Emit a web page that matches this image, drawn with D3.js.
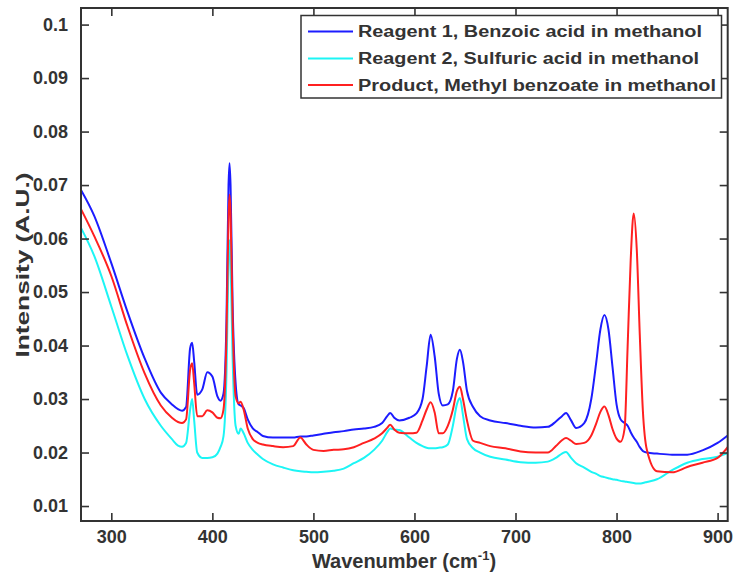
<!DOCTYPE html>
<html>
<head>
<meta charset="utf-8">
<script src="https://cdn.jsdelivr.net/npm/d3@7"></script>
<style>
  body { margin: 0; background: #fff; }
  text { font-family: Arial, "Liberation Sans", sans-serif; font-weight: bold; fill: #333; }
</style>
</head>
<body>
<div id="chart"></div>
<script>
// wavenumber grid (cm-1) shared by the three spectra
const wavenumbers = [270, 283, 300, 316, 333, 349, 360, 366, 370, 374, 378, 380, 382, 385, 390, 395, 400, 405, 408, 411,
  414, 416, 417, 418, 420, 423, 426, 428, 431, 435, 440, 445, 450, 460, 470, 480, 487, 493, 500, 510,
  520, 530, 540, 550, 560, 568, 573, 576, 580, 585, 595, 602, 608, 612, 616, 620, 624, 628, 633, 638,
  642, 645, 648, 652, 658, 665, 675, 690, 705, 720, 732, 740, 746, 750, 755, 760, 768, 775, 780, 784,
  788, 792, 796, 800, 804, 808, 811, 814, 817, 820, 823, 826, 830, 840, 855, 870, 885, 900, 910]

const benzoicAcid = [0.0691, 0.0643, 0.0554, 0.0463, 0.0376, 0.0312, 0.0290, 0.0281, 0.0278, 0.0285, 0.0395, 0.0405, 0.0370, 0.0308, 0.0318, 0.0350, 0.0342, 0.0305, 0.0297, 0.0310,
  0.0450, 0.0700, 0.0741, 0.0700, 0.0480, 0.0330, 0.0290, 0.0288, 0.0283, 0.0262, 0.0245, 0.0238, 0.0231, 0.0228, 0.0228, 0.0228, 0.0230, 0.0230, 0.0232, 0.0235,
  0.0238, 0.0240, 0.0243, 0.0245, 0.0248, 0.0255, 0.0268, 0.0274, 0.0265, 0.0260, 0.0265, 0.0273, 0.0300, 0.0360, 0.0420, 0.0380, 0.0310, 0.0288, 0.0290, 0.0315,
  0.0375, 0.0392, 0.0370, 0.0315, 0.0285, 0.0268, 0.0260, 0.0255, 0.0250, 0.0247, 0.0248, 0.0258, 0.0268, 0.0274, 0.0260, 0.0246, 0.0255, 0.0300, 0.0370, 0.0430,
  0.0457, 0.0430, 0.0360, 0.0290, 0.0262, 0.0255, 0.0250, 0.0238, 0.0228, 0.0220, 0.0210, 0.0203, 0.0200, 0.0198, 0.0196, 0.0196, 0.0204, 0.0218, 0.0232]

const sulfuricAcid = [0.0620, 0.0568, 0.0473, 0.0381, 0.0300, 0.0250, 0.0225, 0.0213, 0.0211, 0.0218, 0.0280, 0.0300, 0.0260, 0.0200, 0.0190, 0.0190, 0.0191, 0.0198, 0.0210, 0.0230,
  0.0350, 0.0560, 0.0597, 0.0560, 0.0380, 0.0250, 0.0235, 0.0245, 0.0236, 0.0218, 0.0205, 0.0196, 0.0188, 0.0178, 0.0172, 0.0167, 0.0165, 0.0164, 0.0163, 0.0164,
  0.0166, 0.0170, 0.0180, 0.0190, 0.0205, 0.0222, 0.0238, 0.0245, 0.0243, 0.0242, 0.0228, 0.0218, 0.0212, 0.0209, 0.0208, 0.0208, 0.0209, 0.0210, 0.0215, 0.0250,
  0.0290, 0.0302, 0.0270, 0.0225, 0.0208, 0.0200, 0.0192, 0.0187, 0.0182, 0.0181, 0.0183, 0.0190, 0.0198, 0.0201, 0.0190, 0.0180, 0.0172, 0.0164, 0.0160, 0.0156,
  0.0154, 0.0152, 0.0150, 0.0149, 0.0147, 0.0146, 0.0145, 0.0144, 0.0143, 0.0142, 0.0142, 0.0143, 0.0145, 0.0150, 0.0167, 0.0181, 0.0188, 0.0192, 0.0199]

const methylBenzoate = [0.0655, 0.0605, 0.0530, 0.0436, 0.0348, 0.0288, 0.0265, 0.0257, 0.0255, 0.0262, 0.0355, 0.0367, 0.0330, 0.0268, 0.0268, 0.0279, 0.0275, 0.0265, 0.0264, 0.0280,
  0.0420, 0.0640, 0.0682, 0.0650, 0.0450, 0.0305, 0.0292, 0.0295, 0.0280, 0.0245, 0.0225, 0.0218, 0.0215, 0.0212, 0.0210, 0.0212, 0.0228, 0.0215, 0.0205, 0.0203,
  0.0205, 0.0206, 0.0210, 0.0218, 0.0226, 0.0236, 0.0246, 0.0252, 0.0243, 0.0237, 0.0236, 0.0237, 0.0260, 0.0280, 0.0294, 0.0275, 0.0236, 0.0236, 0.0250, 0.0280,
  0.0315, 0.0323, 0.0300, 0.0260, 0.0222, 0.0218, 0.0212, 0.0208, 0.0202, 0.0200, 0.0200, 0.0212, 0.0223, 0.0227, 0.0222, 0.0216, 0.0218, 0.0232, 0.0255, 0.0276,
  0.0286, 0.0270, 0.0244, 0.0226, 0.0220, 0.0245, 0.0400, 0.0560, 0.0647, 0.0580, 0.0420, 0.0280, 0.0205, 0.0165, 0.0163, 0.0173, 0.0181, 0.0190, 0.0210]

const seriesNames = [
  "Reagent 1, Benzoic acid in methanol",
  "Reagent 2, Sulfuric acid in methanol",
  "Product, Methyl benzoate in methanol"
]
const seriesColors = ["#1c1cff", "#1cf5f5", "#ff2020"]
const xTicks = [300, 400, 500, 600, 700, 800, 900]
const yTicks = [0.01, 0.02, 0.03, 0.04, 0.05, 0.06, 0.07, 0.08, 0.09, 0.1]

const width = 735
const height = 575
const plot = { left: 81, right: 727.7, top: 8, bottom: 521 }
const axisColor = "#333"

const svg = d3.select("#chart")
  .append("svg")
  .attr("width", width)
  .attr("height", height)

const x = d3.scaleLinear().domain([270, 910]).range([plot.left, plot.right])
const y = d3.scaleLinear().domain([0.0072, 0.1031]).range([plot.bottom, plot.top])

const series = [benzoicAcid, sulfuricAcid, methylBenzoate].map((values, i) => ({
  name: seriesNames[i],
  color: seriesColors[i],
  points: wavenumbers.map((w, j) => [w, values[j]])
}))

svg.append("clipPath")
  .attr("id", "clip")
  .append("rect")
    .attr("x", plot.left)
    .attr("y", plot.top)
    .attr("width", plot.right - plot.left)
    .attr("height", plot.bottom - plot.top)

const line = d3.line()
  .x(d => x(d[0]))
  .y(d => y(d[1]))
  .curve(d3.curveMonotoneX)

svg.append("g")
  .attr("clip-path", "url(#clip)")
  .selectAll("path.spectrum")
  .data(series)
  .enter()
    .append("path")
      .attr("class", "spectrum")
      .attr("d", d => line(d.points))
      .attr("fill", "none")
      .attr("stroke", d => d.color)
      .attr("stroke-width", 2)
      .attr("stroke-linejoin", "round")

// axes, ticks point inward like matlab
const fmtY = d => d3.format("~g")(d)

const styleAxis = g => {
  g.select(".domain").remove()
  g.selectAll(".tick line").attr("stroke", axisColor).attr("stroke-width", 1.6)
  g.selectAll(".tick text")
    .attr("fill", axisColor)
    .style("font-size", "18px")
    .style("font-family", "Arial, 'Liberation Sans', sans-serif")
    .style("font-weight", "bold")
}

svg.append("g")
  .attr("transform", `translate(0,${plot.bottom})`)
  .call(d3.axisBottom(x).tickValues(xTicks).tickSize(-8).tickPadding(9).tickFormat(d3.format("d")))
  .call(styleAxis)

svg.append("g")
  .attr("transform", `translate(0,${plot.top})`)
  .call(d3.axisTop(x).tickValues(xTicks).tickSize(-8).tickFormat(""))
  .call(styleAxis)

svg.append("g")
  .attr("transform", `translate(${plot.left},0)`)
  .call(d3.axisLeft(y).tickValues(yTicks).tickSize(-8).tickPadding(13).tickFormat(fmtY))
  .call(styleAxis)

svg.append("g")
  .attr("transform", `translate(${plot.right},0)`)
  .call(d3.axisRight(y).tickValues(yTicks).tickSize(-8).tickFormat(""))
  .call(styleAxis)

svg.append("rect")
  .attr("x", plot.left)
  .attr("y", plot.top)
  .attr("width", plot.right - plot.left)
  .attr("height", plot.bottom - plot.top)
  .attr("fill", "none")
  .attr("stroke", axisColor)
  .attr("stroke-width", 2)

// axis titles
const xTitle = svg.append("text")
  .attr("x", 404)
  .attr("y", 568)
  .attr("text-anchor", "middle")
  .style("font-size", "20px")
xTitle.append("tspan").text("Wavenumber (cm")
xTitle.append("tspan").attr("dy", -8).style("font-size", "13px").text("-1")
xTitle.append("tspan").attr("dy", 8).text(")")

svg.append("text")
  .attr("transform", "translate(29,265) rotate(-90)")
  .attr("text-anchor", "middle")
  .attr("textLength", 185)
  .attr("lengthAdjust", "spacingAndGlyphs")
  .style("font-size", "19px")
  .text("Intensity (A.U.)")

// legend
const legend = svg.append("g")

legend.append("rect")
  .attr("x", 301)
  .attr("y", 15.5)
  .attr("width", 420.5)
  .attr("height", 82.5)
  .attr("fill", "#fff")
  .attr("stroke", axisColor)
  .attr("stroke-width", 1.5)

const legendRows = [31.5, 58.5, 85]
const legendWidths = [344, 341, 358]

const item = legend.selectAll("g.item")
  .data(series)
  .enter()
    .append("g")
      .attr("class", "item")
      .attr("transform", (d, i) => `translate(0,${legendRows[i]})`)

item.append("line")
  .attr("x1", 308)
  .attr("x2", 353)
  .attr("stroke", d => d.color)
  .attr("stroke-width", 2)

item.append("text")
  .attr("x", 358)
  .attr("dy", "0.35em")
  .attr("textLength", (d, i) => legendWidths[i])
  .attr("lengthAdjust", "spacingAndGlyphs")
  .style("font-size", "16px")
  .text(d => d.name)
</script>
</body>
</html>
